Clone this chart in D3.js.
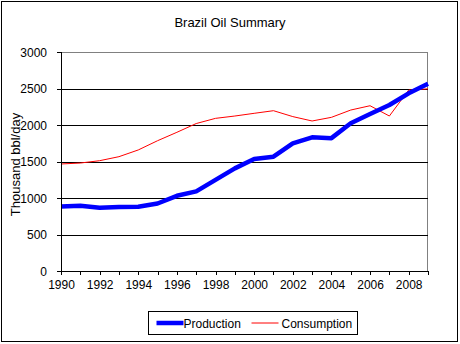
<!DOCTYPE html>
<meta charset="utf-8">
<style>
body { margin: 0; background: #fff; }
text { font-family: "Liberation Sans", Arial, sans-serif; fill: #000; }
.axis text { font-size: 12px; }
.axis path, .axis line { stroke: #000; shape-rendering: crispEdges; }
.grid line { stroke: #000; shape-rendering: crispEdges; }
.grid path { stroke-width: 0; }
</style>
<body>
<script src="https://cdn.jsdelivr.net/npm/d3@7"></script>
<script>

// data
var years = [1990, 1991, 1992, 1993, 1994, 1995, 1996, 1997, 1998, 1999,
             2000, 2001, 2002, 2003, 2004, 2005, 2006, 2007, 2008, 2009];
var production = [885, 893, 867, 877, 881, 925, 1030, 1090, 1248, 1406,
                  1534, 1566, 1749, 1831, 1820, 2025, 2150, 2274, 2434, 2565];
var consumption = [1466, 1479, 1511, 1566, 1658, 1785, 1900, 2020, 2091, 2123,
                   2160, 2196, 2115, 2055, 2105, 2205, 2264, 2123, 2479, 2495];
var yTicks = [0, 500, 1000, 1500, 2000, 2500, 3000];
var xLabels = [1990, 1992, 1994, 1996, 1998, 2000, 2002, 2004, 2006, 2008];

var W = 460, H = 344;
var margin = {top: 52, right: 32, bottom: 73, left: 61},
    width = W - margin.left - margin.right,
    height = H - margin.top - margin.bottom;

var svg = d3.select("body").append("svg")
    .attr("width", W)
    .attr("height", H);

// outer chart border
svg.append("rect")
    .attr("x", 1.5).attr("y", 1.5)
    .attr("width", 456).attr("height", 340)
    .attr("fill", "#fff")
    .attr("stroke", "#000")
    .attr("stroke-width", 1);

var g = svg.append("g")
    .attr("transform", "translate(" + margin.left + "," + margin.top + ")");

var x = d3.scaleLinear().domain([1990, 2009]).range([0, width]);
var y = d3.scaleLinear().domain([0, 3000]).range([height, 0]);

// plot area border (grey)
g.append("rect")
    .attr("x", 0).attr("y", 0.5)
    .attr("width", width - 0.5).attr("height", height)
    .attr("fill", "none")
    .attr("stroke", "#808080")
    .attr("stroke-width", 1)
    .style("shape-rendering", "crispEdges");

// horizontal gridlines
g.append("g")
    .attr("class", "grid")
    .call(d3.axisLeft(y)
        .tickValues(yTicks.filter(function(d) { return d > 0 && d < 3000; }))
        .tickSize(-width)
        .tickFormat(""));

// title
svg.append("text")
    .attr("x", 230)
    .attr("y", 27)
    .attr("text-anchor", "middle")
    .style("font-size", "13px")
    .text("Brazil Oil Summary");

// y axis label
svg.append("text")
    .attr("transform", "translate(20," + (margin.top + height / 2 + 3) + ") rotate(-90)")
    .attr("text-anchor", "middle")
    .style("font-size", "13px")
    .text("Thousand bbl/day");

// lines
var line = function(vals) {
  return d3.line()
      .x(function(d, i) { return x(years[i]); })
      .y(function(d) { return y(d); })(vals);
};

g.append("path")
    .attr("d", line(consumption))
    .attr("fill", "none")
    .attr("stroke", "#ff0000")
    .attr("stroke-width", 1);

g.append("path")
    .attr("d", line(production))
    .attr("fill", "none")
    .attr("stroke", "#0000ff")
    .attr("stroke-width", 4.5)
    .attr("stroke-linejoin", "round");

// y axis
var yAxis = g.append("g")
    .attr("class", "axis")
    .call(d3.axisLeft(y).tickValues(yTicks).tickSize(4).tickPadding(10)
        .tickFormat(d3.format("d")));
yAxis.select(".domain").attr("d", "M0.5," + height + "V0");
yAxis.selectAll("text").attr("dy", "0.35em");

// x axis: tick every year, label every other year
var xAxis = g.append("g")
    .attr("class", "axis")
    .attr("transform", "translate(0," + height + ")")
    .call(d3.axisBottom(x)
        .tickValues(years)
        .tickSize(4)
        .tickPadding(5)
        .tickFormat(function(d) { return xLabels.indexOf(d) >= 0 ? String(d) : ""; }));
xAxis.select(".domain").attr("d", "M0," + 0.5 + "H" + width);

// legend
var legend = svg.append("g").attr("transform", "translate(148.5,311.5)");
legend.append("rect")
    .attr("width", 209).attr("height", 23)
    .attr("fill", "#fff")
    .attr("stroke", "#000")
    .attr("stroke-width", 1);
legend.append("line")
    .attr("x1", 8).attr("x2", 35).attr("y1", 11.5).attr("y2", 11.5)
    .attr("stroke", "#0000ff").attr("stroke-width", 4.5);
legend.append("text")
    .attr("x", 35).attr("y", 16)
    .style("font-size", "12px")
    .text("Production");
legend.append("line")
    .attr("x1", 103).attr("x2", 130).attr("y1", 11.5).attr("y2", 11.5)
    .attr("stroke", "#ff0000").attr("stroke-width", 1);
legend.append("text")
    .attr("x", 133).attr("y", 16)
    .style("font-size", "12px")
    .text("Consumption");

</script>
</body>
